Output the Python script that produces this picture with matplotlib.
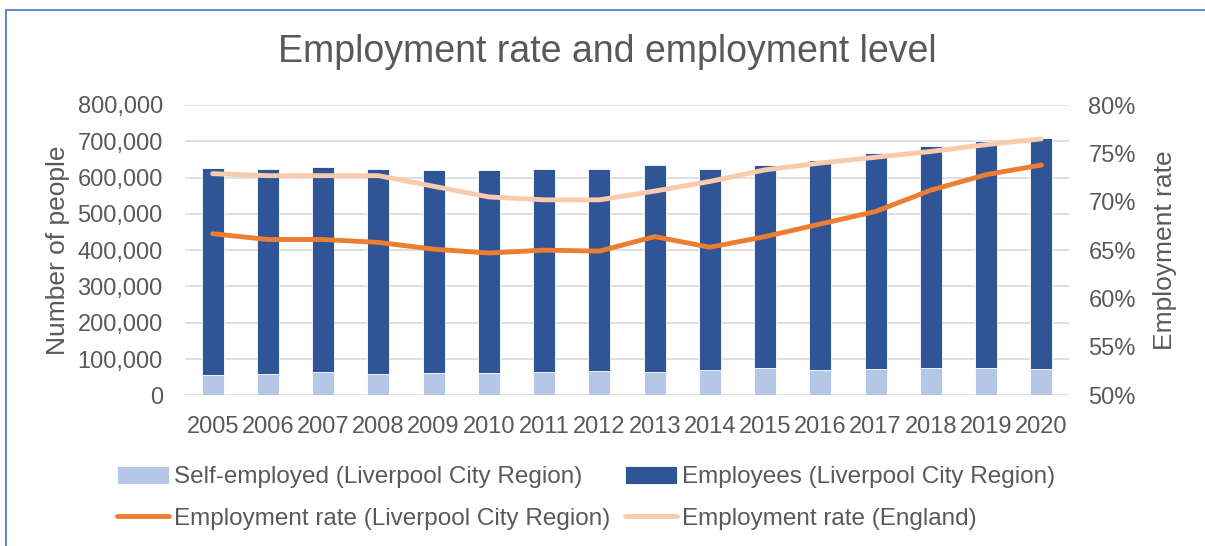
import matplotlib.pyplot as plt
from matplotlib.patches import Rectangle
from matplotlib.ticker import FuncFormatter

plt.rcParams['font.family'] = ['Liberation Sans', 'DejaVu Sans']

years = ['2005', '2006', '2007', '2008', '2009', '2010', '2011', '2012',
         '2013', '2014', '2015', '2016', '2017', '2018', '2019', '2020']
self_employed = [55000, 59000, 63000, 60000, 62000, 61000, 64000, 67000,
                 63000, 70000, 76000, 71000, 73000, 76000, 76000, 73000]
employees = [571000, 566000, 565000, 564000, 560000, 559000, 560000, 557000,
             571000, 553000, 558000, 577000, 594000, 610000, 625000, 637000]
rate_lcr = [66.7, 66.1, 66.1, 65.8, 65.1, 64.7, 65.0, 64.9,
            66.4, 65.3, 66.4, 67.7, 69.0, 71.2, 72.8, 73.8]
rate_england = [72.9, 72.7, 72.7, 72.7, 71.6, 70.5, 70.2, 70.2,
                71.1, 72.1, 73.3, 74.0, 74.6, 75.2, 75.9, 76.5]

grey = '#595959'
W, H = 1205, 546
fig = plt.figure(figsize=(W / 100, H / 100), dpi=100)
ax = fig.add_axes([185 / W, 1 - 395.3 / H, (1069 - 185) / W, (395.3 - 105) / H])

x = range(len(years))
b1 = ax.bar(x, self_employed, width=0.4, color='#B4C7E7', edgecolor='white',
            linewidth=0.6, label='Self-employed (Liverpool City Region)', zorder=2)
b2 = ax.bar(x, employees, width=0.4, bottom=self_employed, color='#2F5597',
            edgecolor='white', linewidth=0.6,
            label='Employees (Liverpool City Region)', zorder=2)

ax.set_xlim(-0.5, len(years) - 0.5)
ax.set_ylim(0, 800000)
ax.set_yticks(range(0, 800001, 100000))
ax.yaxis.set_major_formatter(FuncFormatter(lambda v, p: f'{int(v):,}'))
ax.set_xticks(list(x))
ax.set_xticklabels(years)
ax.grid(axis='y', color='#D9D9D9', linewidth=1.2, zorder=0)
ax.set_axisbelow(True)
for s in ax.spines.values():
    s.set_visible(False)
ax.tick_params(axis='y', length=0, pad=16, labelsize=17, labelcolor=grey)
ax.tick_params(axis='x', length=0, pad=15, labelsize=17, labelcolor=grey)
ax.set_ylabel('Number of people', fontsize=19, color=grey, labelpad=5)

ax2 = ax.twinx()
l1, = ax2.plot(x, rate_lcr, color='#ED7D31', linewidth=3.5,
               solid_capstyle='round', label='Employment rate (Liverpool City Region)')
l2, = ax2.plot(x, rate_england, color='#F8CBAD', linewidth=3.5,
               solid_capstyle='round', label='Employment rate (England)')
ax2.set_ylim(50, 80)
ax2.set_yticks(range(50, 81, 5))
ax2.yaxis.set_major_formatter(FuncFormatter(lambda v, p: f'{int(v)}%'))
for s in ax2.spines.values():
    s.set_visible(False)
ax2.tick_params(axis='y', length=0, pad=14, labelsize=17, labelcolor=grey)
ax2.set_ylabel('Employment rate', fontsize=19, color=grey, labelpad=12)

fig.text(607 / W, 1 - 52 / H, 'Employment rate and employment level',
         ha='center', va='center', fontsize=27, color=grey)

fig.legend([b1, l1, b2, l2],
           [b1.get_label(), l1.get_label(), b2.get_label(), l2.get_label()],
           ncol=2, loc='center', bbox_to_anchor=(586 / W, 1 - 498 / H),
           frameon=False, fontsize=17.5, labelcolor=grey, handlelength=2.15,
           handleheight=0.75, handletextpad=0.2, columnspacing=0.6,
           labelspacing=0.8)

# chart frame
fig.patches.append(Rectangle((6 / W, -0.1), 1.2, 1 - 10 / H + 0.1,
                             transform=fig.transFigure, fill=False,
                             edgecolor='#4472C4', linewidth=1.2))

fig.savefig('out.png', dpi=100)
